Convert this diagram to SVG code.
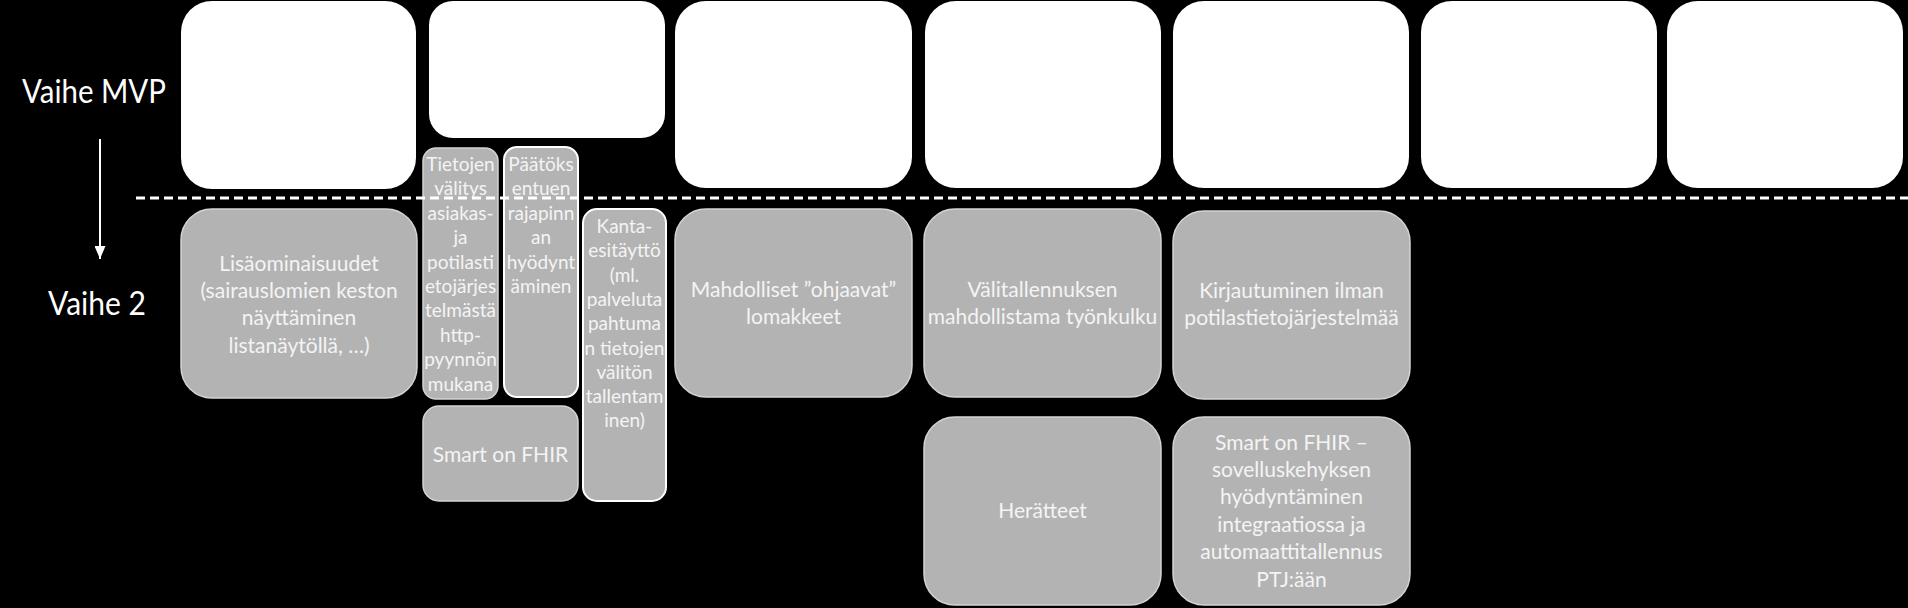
<svg xmlns="http://www.w3.org/2000/svg" width="1908" height="608" viewBox="0 0 1908 608">
<style>
.bg{fill:#000}
.top{fill:#fff}
.g{fill:#b3b3b3;stroke:#d4d4d4;stroke-width:1.5}
.gw{fill:#b3b3b3;stroke:#fff;stroke-width:2}
text{font-family:Lato,"Liberation Sans",sans-serif;fill:#f4f4f4;text-anchor:middle}
.t{font-size:21px}
.n{font-size:19px}
.lbl{font-size:32px;fill:#fff;text-anchor:start}
</style>
<defs>
<marker id="ah" markerWidth="13" markerHeight="11" refX="13" refY="5.5" orient="auto" markerUnits="userSpaceOnUse" viewBox="0 0 13 11">
<path d="M0,0 L13,5.5 L0,11 Z" fill="#fff"/>
</marker>
</defs>
<rect class="bg" x="0" y="0" width="1908" height="608"/>
<g id="mvp-boxes">
<rect class="top" x="181" y="1" width="235" height="188" rx="31"/>
<rect class="top" x="429" y="1" width="236" height="137" rx="24"/>
<rect class="top" x="675" y="1" width="237" height="187" rx="31"/>
<rect class="top" x="925" y="1" width="236" height="187" rx="31"/>
<rect class="top" x="1173" y="1" width="236" height="187" rx="31"/>
<rect class="top" x="1421" y="1" width="236" height="187" rx="31"/>
<rect class="top" x="1667" y="1" width="236" height="187" rx="31"/>
</g>
<text class="lbl" x="22" y="103" textLength="144" lengthAdjust="spacingAndGlyphs">Vaihe MVP</text>
<text class="lbl" x="48" y="315" textLength="98" lengthAdjust="spacingAndGlyphs">Vaihe 2</text>
<g id="lisaominaisuudet">
<rect class="g" x="181" y="209" width="236" height="189" rx="31"/>
<text class="t" x="299" y="271">Lisäominaisuudet</text>
<text class="t" x="299" y="298">(sairauslomien keston</text>
<text class="t" x="299" y="325">näyttäminen</text>
<text class="t" x="299" y="353">listanäytöllä, …)</text>
</g>
<g id="tietojen-valitys">
<rect class="g" x="423" y="148" width="75" height="251" rx="13"/>
<text class="n" x="460.5" y="171">Tietojen</text>
<text class="n" x="460.5" y="195.4">välitys</text>
<text class="n" x="460.5" y="219.8">asiakas-</text>
<text class="n" x="460.5" y="244.2">ja</text>
<text class="n" x="460.5" y="268.6">potilasti</text>
<text class="n" x="460.5" y="293">etojärjes</text>
<text class="n" x="460.5" y="317.4">telmästä</text>
<text class="n" x="460.5" y="341.8">http-</text>
<text class="n" x="460.5" y="366.2">pyynnön</text>
<text class="n" x="460.5" y="390.6">mukana</text>
</g>
<g id="paatoksentuki">
<rect class="gw" x="504" y="147" width="74" height="250" rx="13"/>
<text class="n" x="541" y="171">Päätöks</text>
<text class="n" x="541" y="195.4">entuen</text>
<text class="n" x="541" y="219.8">rajapinn</text>
<text class="n" x="541" y="244.2">an</text>
<text class="n" x="541" y="268.6">hyödynt</text>
<text class="n" x="541" y="293">äminen</text>
</g>
<g id="smart-on-fhir">
<rect class="g" x="423" y="406" width="155" height="95" rx="16"/>
<text class="t" x="500.5" y="462">Smart on FHIR</text>
</g>
<g id="kanta-esitaytto">
<rect class="gw" x="583" y="209" width="83" height="292" rx="14"/>
<text class="n" x="624.5" y="233">Kanta-</text>
<text class="n" x="624.5" y="257.3">esitäyttö</text>
<text class="n" x="624.5" y="281.6">(ml.</text>
<text class="n" x="624.5" y="305.9">palveluta</text>
<text class="n" x="624.5" y="330.2">pahtuma</text>
<text class="n" x="624.5" y="354.5">n tietojen</text>
<text class="n" x="624.5" y="378.8">välitön</text>
<text class="n" x="624.5" y="403.1">tallentam</text>
<text class="n" x="624.5" y="427.4">inen)</text>
</g>
<g id="mahdolliset-lomakkeet">
<rect class="g" x="675" y="209" width="237" height="188" rx="31"/>
<text class="t" x="793.5" y="297">Mahdolliset ”ohjaavat”</text>
<text class="t" x="793.5" y="324">lomakkeet</text>
</g>
<g id="valitallennus">
<rect class="g" x="924" y="209" width="237" height="188" rx="31"/>
<text class="t" x="1042.5" y="297">Välitallennuksen</text>
<text class="t" x="1042.5" y="324">mahdollistama työnkulku</text>
</g>
<g id="kirjautuminen">
<rect class="g" x="1173" y="211" width="237" height="188" rx="31"/>
<text class="t" x="1291.5" y="298">Kirjautuminen ilman</text>
<text class="t" x="1291.5" y="325">potilastietojärjestelmää</text>
</g>
<g id="heratteet">
<rect class="g" x="924" y="417" width="237" height="188" rx="31"/>
<text class="t" x="1042.5" y="518">Herätteet</text>
</g>
<g id="smart-on-fhir-sovelluskehys">
<rect class="g" x="1173" y="417" width="237" height="188" rx="31"/>
<text class="t" x="1291.5" y="450">Smart on FHIR –</text>
<text class="t" x="1291.5" y="477">sovelluskehyksen</text>
<text class="t" x="1291.5" y="504">hyödyntäminen</text>
<text class="t" x="1291.5" y="532">integraatiossa ja</text>
<text class="t" x="1291.5" y="559">automaattitallennus</text>
<text class="t" x="1291.5" y="587">PTJ:ään</text>
</g>
<line x1="136" y1="198" x2="1908" y2="198" stroke="#fff" stroke-width="3" stroke-dasharray="9 5"/>
<g id="connectors">
<line x1="100" y1="139" x2="100" y2="259" stroke="#fff" stroke-width="2" marker-end="url(#ah)"/>
</g>
</svg>
